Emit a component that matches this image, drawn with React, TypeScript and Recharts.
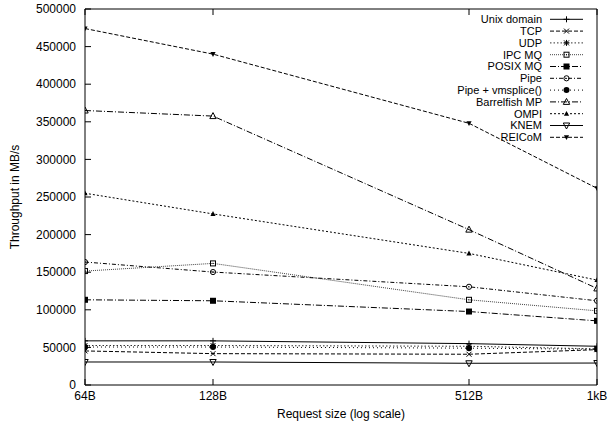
import { Legend, Line, LineChart, XAxis, YAxis } from "recharts";

const sizes = [64, 128, 512, 1024];
const sizeLabels = ["64B", "128B", "512B", "1kB"];
const yTicks = [0, 50000, 100000, 150000, 200000, 250000, 300000, 350000, 400000, 450000, 500000];

const unixDomain = [58700, 58700, 55000, 51500];
const tcp = [45300, 41700, 40900, 47000];
const udp = [52500, 52500, 51500, 48000];
const ipcMq = [151500, 161700, 113300, 98600];
const posixMq = [113300, 112000, 97700, 85300];
const pipe = [163500, 150200, 130600, 112000];
const pipeVmsplice = [50500, 50500, 49000, 47500];
const barrelfish = [365000, 357600, 206600, 128400];
const ompi = [255000, 227500, 175000, 139500];
const knem = [30600, 30600, 28900, 29200];
const reicom = [474000, 440000, 348000, 261600];

const FONT = "'Liberation Sans', Arial, Helvetica, sans-serif";
const FS = 12;

type Series = { key: string; name: string; values: number[]; dash?: string; marker: string; color: string };

const series: Series[] = [
  { key: "unix", name: "Unix domain", values: unixDomain, marker: "plus", color: "#000" },
  { key: "tcp", name: "TCP", values: tcp, dash: "4 2", marker: "cross", color: "#000" },
  { key: "udp", name: "UDP", values: udp, dash: "1.5 2", marker: "star", color: "#333" },
  { key: "ipc", name: "IPC MQ", values: ipcMq, dash: "1 1", marker: "square", color: "#444" },
  { key: "posix", name: "POSIX MQ", values: posixMq, dash: "6 2 1 2", marker: "fsquare", color: "#000" },
  { key: "pipe", name: "Pipe", values: pipe, dash: "4 2 1 2", marker: "circle", color: "#000" },
  { key: "vmsplice", name: "Pipe + vmsplice()", values: pipeVmsplice, dash: "1 3", marker: "fcircle", color: "#000" },
  { key: "barrel", name: "Barrelfish MP", values: barrelfish, dash: "6 2 1 2", marker: "triangle", color: "#000" },
  { key: "ompi", name: "OMPI", values: ompi, dash: "2 2", marker: "ftriangle", color: "#000" },
  { key: "knem", name: "KNEM", values: knem, marker: "dtriangle", color: "#000" },
  { key: "reicom", name: "REICoM", values: reicom, dash: "4 2", marker: "fdtriangle", color: "#000" },
];

const data = sizes.map((size, i) => {
  const row: { [k: string]: number } = { size };
  series.forEach((s) => (row[s.key] = s.values[i]));
  return row;
});

const Marker = ({ kind, cx, cy }: { kind: string; cx: number; cy: number }) => {
  const s = 3;
  const st = { stroke: "#000", strokeWidth: 1 };
  switch (kind) {
    case "plus":
      return (
        <g {...st}>
          <line x1={cx - s} x2={cx + s} y1={cy} y2={cy} />
          <line x1={cx} x2={cx} y1={cy - s} y2={cy + s} />
        </g>
      );
    case "cross":
      return (
        <g {...st}>
          <line x1={cx - 2.5} x2={cx + 2.5} y1={cy - 2.5} y2={cy + 2.5} />
          <line x1={cx - 2.5} x2={cx + 2.5} y1={cy + 2.5} y2={cy - 2.5} />
        </g>
      );
    case "star":
      return (
        <g {...st}>
          <line x1={cx - s} x2={cx + s} y1={cy} y2={cy} />
          <line x1={cx} x2={cx} y1={cy - s} y2={cy + s} />
          <line x1={cx - 2.5} x2={cx + 2.5} y1={cy - 2.5} y2={cy + 2.5} />
          <line x1={cx - 2.5} x2={cx + 2.5} y1={cy + 2.5} y2={cy - 2.5} />
        </g>
      );
    case "square":
      return (
        <g>
          <rect x={cx - 2.5} y={cy - 2.5} width={5} height={5} fill="none" {...st} />
          <circle cx={cx} cy={cy} r={0.6} fill="#000" />
        </g>
      );
    case "fsquare":
      return <rect x={cx - 3} y={cy - 3} width={6} height={6} fill="#000" />;
    case "circle":
      return (
        <g>
          <circle cx={cx} cy={cy} r={2.6} fill="none" {...st} />
          <circle cx={cx} cy={cy} r={0.6} fill="#000" />
        </g>
      );
    case "fcircle":
      return <circle cx={cx} cy={cy} r={3} fill="#000" />;
    case "triangle":
      return <path d={`M${cx},${cy - 3.5}L${cx + 3.2},${cy + 2.5}L${cx - 3.2},${cy + 2.5}Z`} fill="none" {...st} />;
    case "ftriangle":
      return <path d={`M${cx},${cy - 2.8}L${cx + 2.6},${cy + 2}L${cx - 2.6},${cy + 2}Z`} fill="#000" />;
    case "dtriangle":
      return <path d={`M${cx},${cy + 3.5}L${cx + 3.2},${cy - 2.5}L${cx - 3.2},${cy - 2.5}Z`} fill="none" {...st} />;
    case "fdtriangle":
      return <path d={`M${cx},${cy + 2.8}L${cx + 2.6},${cy - 2}L${cx - 2.6},${cy - 2}Z`} fill="#000" />;
    default:
      return null;
  }
};

const renderLegend = () => (
  <svg width={215} height={140} style={{ display: "block" }}>
    {series.map((s, i) => {
      const y = 7.3 + i * 11.8;
      return (
        <g key={s.key}>
          <text x={162} y={y} dy="0.35em" textAnchor="end" fontSize={11} fontFamily={FONT} fill="#000">
            {s.name}
          </text>
          <line x1={170} x2={203} y1={y} y2={y} stroke={s.color} strokeDasharray={s.dash} />
          <Marker kind={s.marker} cx={186.5} cy={y} />
        </g>
      );
    })}
  </svg>
);

const tickStyle = { fontSize: FS, fontFamily: FONT, fill: "#000" };

export default function App() {
  return (
    <div style={{ position: "absolute", left: 0, top: 0, width: 608, height: 427, background: "#fff" }}>
      <LineChart width={608} height={427} data={data} margin={{ top: 8, right: 10, bottom: 0, left: 0 }}>
        <XAxis
          dataKey="size"
          type="number"
          scale="log"
          domain={[64, 1024]}
          allowDataOverflow
          ticks={sizes}
          tickFormatter={(v: number) => sizeLabels[sizes.indexOf(v)]}
          height={42}
          tickSize={-6}
          tickMargin={12}
          tick={tickStyle}
          stroke="#000"
          label={({ viewBox }: any) => (
            <text x={viewBox.x + viewBox.width / 2} y={418} textAnchor="middle" fontSize={FS} fontFamily={FONT} fill="#000">
              Request size (log scale)
            </text>
          )}
        />
        <XAxis
          xAxisId="top"
          dataKey="size"
          orientation="top"
          type="number"
          scale="log"
          domain={[64, 1024]}
          allowDataOverflow
          ticks={sizes}
          height={1}
          tickSize={-6}
          tick={() => <g />}
          stroke="#000"
        />
        <YAxis
          domain={[0, 500000]}
          ticks={yTicks}
          width={85}
          tickSize={-6}
          tickMargin={15}
          tick={tickStyle}
          stroke="#000"
          interval={0}
          label={({ viewBox }: any) => (
            <text
              x={15}
              y={viewBox.y + viewBox.height / 2}
              transform={`rotate(-90, 15, ${viewBox.y + viewBox.height / 2})`}
              textAnchor="middle"
              dy="0.35em"
              fontSize={FS}
              fontFamily={FONT}
              fill="#000"
            >
              Throughput in MB/s
            </text>
          )}
        />
        <YAxis
          yAxisId="right"
          orientation="right"
          domain={[0, 500000]}
          ticks={yTicks}
          width={1}
          tickSize={-6}
          tick={() => <g />}
          stroke="#000"
          interval={0}
        />
        <Legend
          content={renderLegend}
          layout="vertical"
          align="center"
          verticalAlign="middle"
          wrapperStyle={{ position: "absolute", left: 380, top: 12, width: 215, height: 140 }}
        />
        {series.map((s) => (
          <Line
            key={s.key}
            dataKey={s.key}
            name={s.name}
            stroke={s.color}
            strokeWidth={1}
            strokeDasharray={s.dash}
            isAnimationActive={false}
            dot={(p: any) => <Marker key={`${s.key}-${p.index}`} kind={s.marker} cx={p.cx} cy={p.cy} />}
            activeDot={false}
          />
        ))}
      </LineChart>
    </div>
  );
}
